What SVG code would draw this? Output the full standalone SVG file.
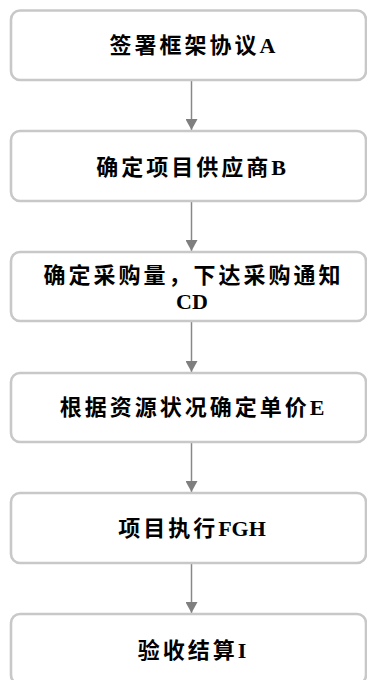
<svg xmlns="http://www.w3.org/2000/svg" width="367" height="680" viewBox="0 0 367 680">
<style>
.box{fill:#ffffff;stroke:#c8c8c8;stroke-width:2.6}
.lbl{font-family:"Liberation Serif","Noto Sans CJK SC",serif;font-weight:bold;font-size:22px;fill:#000;text-anchor:middle}
.cj{letter-spacing:3px}
.conn{stroke:#888888;stroke-width:1.5;fill:none}
.head{fill:#7f7f7f}
</style>
<defs>
<marker id="arr" markerWidth="11" markerHeight="12" refX="11" refY="6" orient="auto" markerUnits="userSpaceOnUse" viewBox="0 0 11 12">
<path d="M0,0 L11,6 L0,12 Z" class="head"/>
</marker>
</defs>
<rect x="0" y="0" width="367" height="680" fill="#ffffff"/>
<g id="connectors">
<line class="conn" x1="191.5" y1="81" x2="191.5" y2="130" marker-end="url(#arr)"/>
<line class="conn" x1="191.5" y1="202" x2="191.5" y2="251" marker-end="url(#arr)"/>
<line class="conn" x1="191.5" y1="322" x2="191.5" y2="372" marker-end="url(#arr)"/>
<line class="conn" x1="191.5" y1="443" x2="191.5" y2="492" marker-end="url(#arr)"/>
<line class="conn" x1="191.5" y1="564" x2="191.5" y2="613" marker-end="url(#arr)"/>
</g>
<g id="node1">
<rect class="box" x="11" y="10.5" width="355" height="69.5" rx="9"/>
<text class="lbl" x="192.5" y="53"><tspan class="cj">签署框架协议</tspan>A</text>
</g>
<g id="node2">
<rect class="box" x="11" y="131" width="355" height="70" rx="9"/>
<text class="lbl" x="191" y="175"><tspan class="cj">确定项目供应商</tspan>B</text>
</g>
<g id="node3">
<rect class="box" x="11" y="252" width="355" height="69" rx="9"/>
<text class="lbl cj" x="193.5" y="283">确定采购量，下达采购通知</text>
<text class="lbl" x="192" y="309">CD</text>
</g>
<g id="node4">
<rect class="box" x="11" y="373" width="355" height="69" rx="9"/>
<text class="lbl" x="192" y="415"><tspan class="cj">根据资源状况确定单价</tspan>E</text>
</g>
<g id="node5">
<rect class="box" x="11" y="493" width="355" height="70" rx="9"/>
<text class="lbl" x="192" y="536"><tspan class="cj">项目执行</tspan>FGH</text>
</g>
<g id="node6">
<rect class="box" x="11" y="614" width="355" height="70" rx="9"/>
<text class="lbl" x="192" y="658"><tspan class="cj">验收结算</tspan>I</text>
</g>
</svg>
